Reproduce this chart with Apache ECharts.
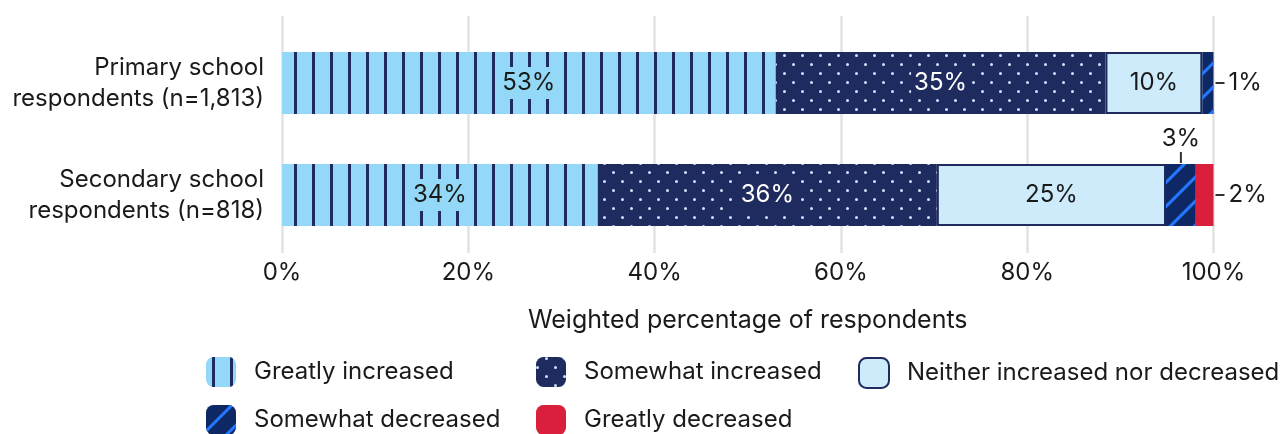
<!DOCTYPE html>
<html>
<head>
<meta charset="utf-8">
<script src="https://cdn.jsdelivr.net/npm/echarts@6/dist/echarts.min.js"></script>
<style>
  html, body { margin: 0; padding: 0; background: #ffffff; }
  #chart { width: 1288px; height: 434px; }
</style>
</head>
<body>
<div id="chart"></div>
<script>
// Respondent groups (top to bottom)
const categories = ['Primary school\nrespondents (n=1,813)', 'Secondary school\nrespondents (n=818)'];

// Response options, in stacking order
const seriesNames = ['Greatly increased', 'Somewhat increased', 'Neither increased nor decreased', 'Somewhat decreased', 'Greatly decreased'];

// Weighted percentage of respondents per group
const greatlyIncreased  = [53.0, 33.9];
const somewhatIncreased = [35.4, 36.4];
const neitherChange     = [10.4, 24.6];
const somewhatDecreased = [1.2, 3.2];
const greatlyDecreased  = [0, 1.9];

// Axis ticks
const xTicks = [0, 20, 40, 60, 80, 100];

const FONT = 'Inter';
const FS = 24;
const INK = '#1a1a1a';
const NAVY = '#1f2b5e';
const SKY = '#93d9f7';
const PALE = '#cdebfb';
const DEEP = '#0d2865';
const BRIGHT = '#2378ff';
const RED = '#d91f3c';

const pct = v => Math.round(v) + '%';

// rich-text tokens for small values drawn outside the bar with a short leader
const outsideRich = {
  hl: { width: 9, height: 2, backgroundColor: '#333333' },
  vl: { width: 2, height: 11, backgroundColor: '#333333' },
  v: { fontFamily: FONT, fontSize: FS, color: INK, padding: [0, 0, 0, 4] },
  vt: { fontFamily: FONT, fontSize: FS, color: INK, align: 'center', padding: [0, 0, 1, 0] }
};

function insideLabel(textColor, bg) {
  return {
    show: true,
    position: 'inside',
    fontFamily: FONT,
    fontSize: FS,
    color: textColor,
    backgroundColor: bg,
    padding: [4, 3],
    formatter: p => pct(p.value)
  };
}

function sideLabel() {
  return {
    show: true,
    position: 'right',
    distance: 2,
    formatter: p => '{hl| }{v|' + pct(p.value) + '}',
    rich: outsideRich
  };
}

function topLabel() {
  return {
    show: true,
    position: 'top',
    distance: 1,
    formatter: p => '{vt|' + pct(p.value) + '}\n{vl| }',
    rich: outsideRich
  };
}

// Per-point data with label overrides for small segments
function points(values, labelFor) {
  return values.map((v, i) => {
    const item = { value: v };
    const lab = labelFor ? labelFor(v, i) : null;
    if (lab) item.label = lab;
    return item;
  });
}

const barBase = {
  type: 'bar',
  stack: 'total',
  barWidth: 62,
  xAxisIndex: 1,
  yAxisIndex: 1,
  emphasis: { disabled: true },
  silent: true
};

const series = [
  Object.assign({}, barBase, {
    name: seriesNames[0],
    itemStyle: {
      color: SKY,
      // vertical navy stripes, 3px wide every 17px
      decal: { symbol: 'rect', symbolSize: 1, color: NAVY, dashArrayX: [[0, 5.5, 3, 8.5]], dashArrayY: [1, 0] }
    },
    label: insideLabel(INK, SKY),
    data: points(greatlyIncreased)
  }),
  Object.assign({}, barBase, {
    name: seriesNames[1],
    itemStyle: {
      color: NAVY,
      // staggered light dots
      decal: { symbol: 'circle', symbolSize: 1, color: '#c4e6f9', dashArrayX: [[2.5, 14.5], [0, 8.5, 2.5, 6]], dashArrayY: [2.5, 6] }
    },
    label: insideLabel('#ffffff', NAVY),
    data: points(somewhatIncreased)
  }),
  Object.assign({}, barBase, {
    name: seriesNames[2],
    itemStyle: { color: PALE, borderColor: NAVY, borderWidth: 2 },
    label: insideLabel(INK, PALE),
    data: points(neitherChange)
  }),
  Object.assign({}, barBase, {
    name: seriesNames[3],
    itemStyle: {
      color: DEEP,
      // bright diagonal hatching
      decal: { symbol: 'rect', symbolSize: 1, color: BRIGHT, dashArrayX: [1, 0], dashArrayY: [3, 14], rotation: -Math.PI / 4 }
    },
    label: { show: false },
    data: points(somewhatDecreased, (v, i) => i === 0 ? sideLabel() : topLabel())
  }),
  Object.assign({}, barBase, {
    name: seriesNames[4],
    itemStyle: { color: RED },
    label: { show: false },
    data: points(greatlyDecreased, v => v > 0 ? sideLabel() : null)
  })
];

function legendColumn(left, names) {
  return {
    orient: 'vertical',
    left: left,
    top: 357,
    height: 120,
    padding: 0,
    itemWidth: 30,
    itemHeight: 30,
    itemGap: 18,
    icon: 'roundRect',
    selectedMode: false,
    data: names,
    textStyle: { fontFamily: FONT, fontSize: FS, color: INK, padding: [0, 0, 0, 13] }
  };
}

const chart = echarts.init(document.getElementById('chart'), null, { renderer: 'canvas' });

chart.setOption({
  animation: false,
  backgroundColor: '#ffffff',
  grid: [
    { left: 282, right: 74.5, top: 16, height: 237 },
    { left: 282, right: 74.5, top: 27, height: 224 }
  ],
  xAxis: [
    {
      gridIndex: 0,
      type: 'value',
      min: xTicks[0],
      max: xTicks[xTicks.length - 1],
      interval: xTicks[1] - xTicks[0],
      axisLine: { show: false },
      axisTick: { show: false },
      axisLabel: { fontFamily: FONT, fontSize: FS, color: INK, margin: 8, formatter: v => v + '%' },
      splitLine: { show: true, lineStyle: { color: '#e3e3e3', width: 2.5 } },
      name: 'Weighted percentage of respondents',
      nameLocation: 'middle',
      nameGap: 55,
      nameTextStyle: { fontFamily: FONT, fontSize: 25, color: INK }
    },
    {
      gridIndex: 1,
      type: 'value',
      min: xTicks[0],
      max: xTicks[xTicks.length - 1],
      show: false
    }
  ],
  yAxis: [
    { gridIndex: 0, type: 'value', min: 0, max: 1, show: false },
    {
      gridIndex: 1,
      type: 'category',
      inverse: true,
      data: categories,
      axisLine: { show: false },
      axisTick: { show: false },
      axisLabel: { fontFamily: FONT, fontSize: FS, color: INK, margin: 18, lineHeight: 31, align: 'right' }
    }
  ],
  legend: [
    legendColumn(206, [seriesNames[0], seriesNames[3]]),
    legendColumn(536, [seriesNames[1], seriesNames[4]]),
    legendColumn(858, [seriesNames[2]])
  ],
  series: series
});
</script>
</body>
</html>
